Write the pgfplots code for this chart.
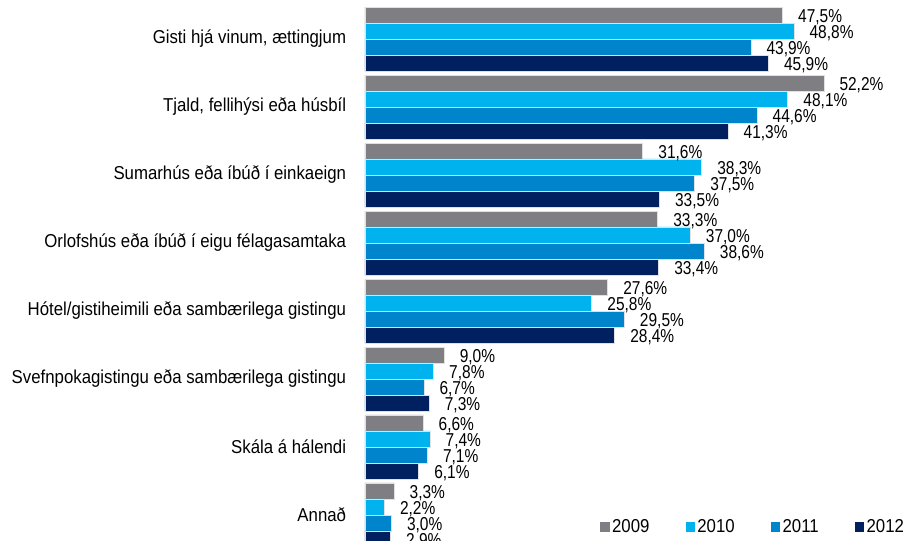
\documentclass[border=0pt]{standalone}
\usepackage{fontspec}
\setmainfont[FakeStretch=0.90]{Liberation Sans}
\newfontfamily\lblfont[FakeStretch=0.83]{Liberation Sans}
\usepackage{pgfplots}
\pgfplotsset{compat=1.18}

\definecolor{c2009}{RGB}{127,127,131}
\definecolor{c2010}{RGB}{0,178,238}
\definecolor{c2011}{RGB}{0,133,204}
\definecolor{c2012}{RGB}{0,32,96}

\pgfplotsset{
  bar/.style={xbar, bar width=12pt, bar shift=0pt, fill=#1, draw=black!12, line width=0.5pt,
    legend image code/.code={\fill[#1] (0pt,-3.4pt) rectangle (6.4pt,3.4pt);}},
}

\begin{document}
\begin{tikzpicture}
\begin{axis}[
  scale only axis,
  width=404.25pt, height=405pt,
  xmin=0, xmax=61.32,
  ymin=-0.574, ymax=7.368,
  y dir=reverse,
  axis line style={draw=none},
  major tick length=0pt,
  xtick=\empty,
  ytick={0,1,2,3,4,5,6,7},
  yticklabels={{Gisti hjá vinum, ættingjum},{Tjald, fellihýsi eða húsbíl},{Sumarhús eða íbúð í einkaeign},{Orlofshús eða íbúð í eigu félagasamtaka},{Hótel/gistiheimili eða sambærilega gistingu},{Svefnpokagistingu eða sambærilega gistingu},{Skála á hálendi},{Annað}},
  yticklabel style={font=\fontsize{14}{16}\selectfont, anchor=east, inner sep=0pt, xshift=-14pt},
  point meta=x,
  nodes near coords={\pgfmathprintnumber[fixed,fixed zerofill,precision=1,use comma,assume math mode=true]{\pgfplotspointmeta}\%},
  every node near coord/.append style={font=\lblfont\fontsize{14}{16}\selectfont, anchor=west, inner sep=0pt, xshift=11.5pt, yshift=-1.5pt, text=black},
  legend style={at={(0.436,0.024)}, anchor=west, draw=none, fill=none, inner sep=0pt,
    legend columns=4, font=\fontsize{14}{16}\selectfont,
    /tikz/every even column/.append style={column sep=25pt}},
]
\addplot[bar=c2009] coordinates {
  (47.5,-0.353) (52.2,0.647) (31.6,1.647) (33.3,2.647) (27.6,3.647) (9.0,4.647) (6.6,5.647) (3.3,6.647)};
\addlegendentry{2009}
\addplot[bar=c2010] coordinates {
  (48.8,-0.118) (48.1,0.882) (38.3,1.882) (37.0,2.882) (25.8,3.882) (7.8,4.882) (7.4,5.882) (2.2,6.882)};
\addlegendentry{2010}
\addplot[bar=c2011] coordinates {
  (43.9,0.118) (44.6,1.118) (37.5,2.118) (38.6,3.118) (29.5,4.118) (6.7,5.118) (7.1,6.118) (3.0,7.118)};
\addlegendentry{2011}
\addplot[bar=c2012] coordinates {
  (45.9,0.353) (41.3,1.353) (33.5,2.353) (33.4,3.353) (28.4,4.353) (7.3,5.353) (6.1,6.353) (2.9,7.353)};
\addlegendentry{2012}
\end{axis}
\pgfresetboundingbox
\useasboundingbox ([xshift=-273.75pt]current axis.south west) rectangle (current axis.north east);
\end{tikzpicture}
\end{document}
